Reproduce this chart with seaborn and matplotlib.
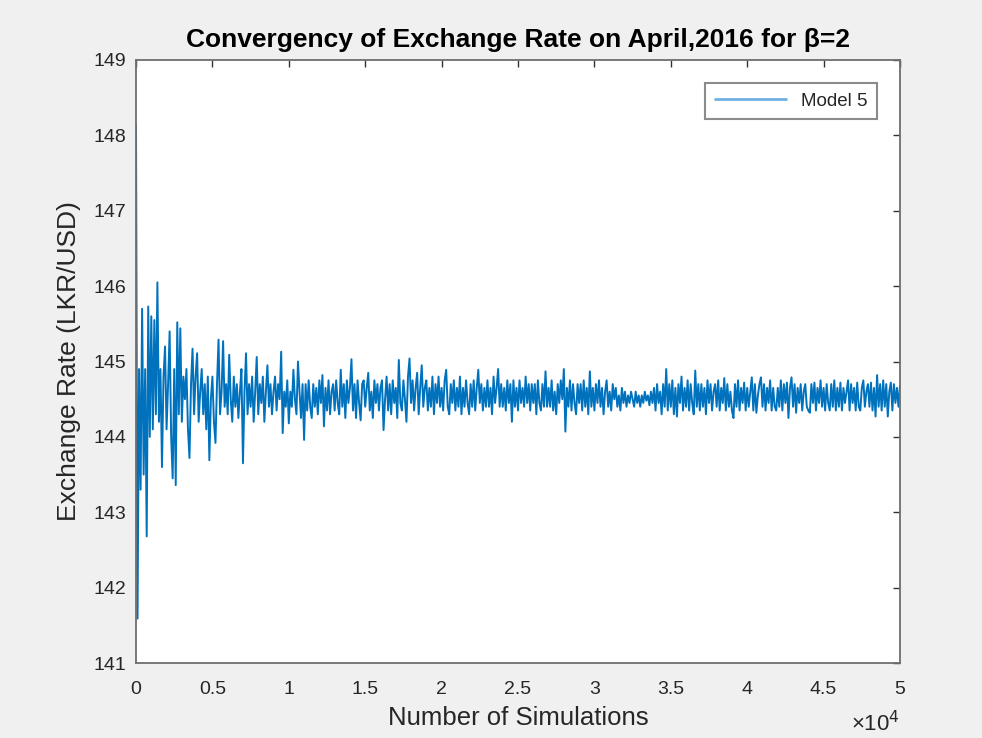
import matplotlib
matplotlib.use("Agg")
import matplotlib.pyplot as plt
import seaborn as sns
import pandas as pd

# number of simulations (every 100 runs) and the running estimate of the rate
sims = list(range(0, 50001, 100))
rate = [
    148.13, 141.59, 144.9, 143.3, 145.7, 143.5, 144.9, 142.68, 145.73, 144.0,
    145.6, 144.1, 145.55, 144.3, 146.05, 144.2, 144.9, 143.6, 144.8, 145.2,
    144.1, 144.7, 145.4, 144.0, 143.45, 144.9, 143.36, 145.52, 144.3, 145.44,
    144.2, 144.8, 144.5, 144.9, 144.1, 143.72, 144.7, 145.17, 144.3, 144.8,
    145.11, 144.2, 144.6, 144.9, 144.3, 144.7, 144.1, 144.8, 143.69, 144.5,
    144.8, 144.2, 143.92, 144.7, 145.29, 144.3, 144.6, 145.27, 144.4, 144.7,
    144.3, 145.09, 144.5, 144.2, 144.8, 144.4, 144.7, 144.25, 144.6, 144.9,
    143.65, 144.6, 145.11, 144.3, 144.7, 144.4, 144.8, 144.2, 144.6, 145.06,
    144.3, 144.7, 144.45, 144.8, 144.2, 144.6, 144.95, 144.4, 144.7, 144.3,
    144.6, 144.8, 144.35, 144.7, 144.5, 145.13, 144.05, 144.6, 144.4, 144.75,
    144.18, 144.6, 144.4, 144.89, 144.5, 144.3, 145.0, 144.6, 144.25, 144.7,
    143.96, 144.7, 144.35, 144.75, 144.4, 144.25, 144.7, 144.4, 144.65, 144.3,
    144.75, 144.45, 144.82, 144.14, 144.65, 144.35, 144.75, 144.3, 144.6, 144.7,
    144.35, 144.75, 144.45, 144.3, 144.89, 144.4, 144.7, 144.25, 144.75, 144.45,
    144.65, 145.03, 144.35, 144.7, 144.25, 144.75, 144.45, 144.22, 144.7, 144.75,
    144.4, 144.65, 144.85, 144.35, 144.6, 144.25, 144.75, 144.45, 144.7, 144.35,
    144.65, 144.75, 144.09, 144.5, 144.8, 144.35, 144.7, 144.3, 144.75, 144.45,
    144.65, 144.25, 145.02, 144.45, 144.35, 144.75, 144.5, 144.2, 144.8, 145.04,
    144.45, 144.75, 144.35, 144.65, 144.85, 144.3, 144.65, 144.95, 144.4, 144.65,
    144.75, 144.35, 144.65, 144.4, 144.8, 144.3, 144.7, 144.45, 144.8, 144.4,
    144.65, 144.35, 144.75, 144.89, 144.4, 144.3, 144.7, 144.45, 144.75, 144.35,
    144.65, 144.4, 144.8, 144.3, 144.65, 144.4, 144.75, 144.45, 144.3, 144.7,
    144.4, 144.75, 144.35, 144.65, 144.89, 144.45, 144.7, 144.35, 144.65, 144.4,
    144.75, 144.4, 144.65, 144.3, 144.8, 144.45, 144.65, 144.9, 144.4, 144.7,
    144.4, 144.65, 144.35, 144.75, 144.45, 144.7, 144.2, 144.75, 144.4, 144.65,
    144.35, 144.75, 144.45, 144.65, 144.4, 144.8, 144.45, 144.7, 144.35, 144.7,
    144.45, 144.7, 144.3, 144.75, 144.45, 144.35, 144.7, 144.4, 144.87, 144.4,
    144.65, 144.4, 144.75, 144.35, 144.6, 144.3, 144.7, 144.45, 144.75, 144.5,
    144.9, 144.07, 144.65, 144.4, 144.75, 144.35, 144.7, 144.45, 144.3, 144.7,
    144.45, 144.7, 144.35, 144.75, 144.4, 144.65, 144.3, 144.87, 144.4, 144.65,
    144.35, 144.7, 144.45, 144.75, 144.4, 144.65, 144.3, 144.6, 144.75, 144.4,
    144.6, 144.35, 144.7, 144.5, 144.65, 144.4, 144.55, 144.35, 144.65, 144.45,
    144.6, 144.4, 144.55, 144.45, 144.6, 144.5, 144.4, 144.6, 144.45, 144.55,
    144.4, 144.55, 144.45, 144.6, 144.48, 144.55, 144.42, 144.6, 144.45, 144.65,
    144.35, 144.7, 144.45, 144.6, 144.3, 144.7, 144.4, 144.9, 144.35, 144.7,
    144.4, 144.75, 144.3, 144.65, 144.27, 144.7, 144.45, 144.8, 144.35, 144.65,
    144.4, 144.75, 144.35, 144.7, 144.45, 144.3, 144.88, 144.4, 144.7, 144.35,
    144.7, 144.4, 144.65, 144.3, 144.75, 144.45, 144.7, 144.35, 144.6, 144.7,
    144.4, 144.75, 144.35, 144.65, 144.45, 144.78, 144.35, 144.7, 144.4, 144.6,
    144.35, 144.25, 144.7, 144.4, 144.75, 144.35, 144.65, 144.45, 144.72, 144.35,
    144.65, 144.4, 144.6, 144.79, 144.35, 144.7, 144.32, 144.55, 144.7, 144.79,
    144.4, 144.7, 144.35, 144.65, 144.45, 144.75, 144.35, 144.65, 144.4, 144.35,
    144.65, 144.4, 144.75, 144.35, 144.7, 144.45, 144.72, 144.25, 144.65, 144.79,
    144.4, 144.7, 144.32, 144.65, 144.45, 144.7, 144.35, 144.6, 144.7, 144.4,
    144.35, 144.32, 144.7, 144.45, 144.72, 144.35, 144.65, 144.45, 144.75, 144.4,
    144.65, 144.35, 144.7, 144.45, 144.35, 144.7, 144.4, 144.75, 144.35, 144.65,
    144.4, 144.72, 144.35, 144.65, 144.45, 144.6, 144.75, 144.35, 144.7, 144.45,
    144.65, 144.35, 144.72, 144.4, 144.35, 144.65, 144.75, 144.4, 144.6, 144.7,
    144.4, 144.72, 144.35, 144.65, 144.27, 144.82, 144.4, 144.7, 144.35, 144.75,
    144.4, 144.7, 144.27, 144.6, 144.72, 144.35, 144.7, 144.45, 144.65, 144.4,
    144.68,
]
x_ticks = [0, 5000, 10000, 15000, 20000, 25000, 30000, 35000, 40000, 45000, 50000]
x_tick_labels = ["0", "0.5", "1", "1.5", "2", "2.5", "3", "3.5", "4", "4.5", "5"]
y_ticks = [141, 142, 143, 144, 145, 146, 147, 148, 149]

df = pd.DataFrame({"sims": sims, "rate": rate})

sns.set_style("white")
plt.rcParams["font.family"] = ["Liberation Sans", "DejaVu Sans"]

fig = plt.figure(figsize=(9.82, 7.38), dpi=100, facecolor="#f0f0f0")
ax = fig.add_axes([0.1385, 0.1016, 0.778, 0.8171])
ax.set_facecolor("white")

sns.lineplot(data=df, x="sims", y="rate", ax=ax, color="#0072BD",
             linewidth=1.4, estimator=None, sort=False, label="Model 5")

ax.set_xlim(0, 50000)
ax.set_ylim(141, 149)
ax.set_xticks(x_ticks)
ax.set_xticklabels(x_tick_labels)
ax.set_yticks(y_ticks)

for s in ax.spines.values():
    s.set_visible(True)
    s.set_color("#6e6e6e")
    s.set_linewidth(1.3)
ax.tick_params(direction="in", top=True, right=True, length=5, width=1.0,
               color="#333333", labelsize=14, labelcolor="#262626")
ax.tick_params(axis="x", pad=13)
ax.tick_params(axis="y", pad=7)

ax.set_title("Convergency of Exchange Rate on April,2016 for β=2",
             fontsize=19, fontweight="bold", color="black", pad=9)
ax.set_xlabel("Number of Simulations", fontsize=18.5, color="#262626", labelpad=6)
ax.set_ylabel("Exchange Rate (LKR/USD)", fontsize=19, color="#262626", labelpad=9)
ax.text(1.0, -0.08, "×10$^{4}$", transform=ax.transAxes, ha="right", va="top",
        fontsize=16, color="#262626")

leg = ax.legend(loc="upper right", bbox_to_anchor=(0.982, 0.977), fontsize=13.5,
                fancybox=False, frameon=True, handlelength=3.8, borderpad=0.5)
leg.get_frame().set_edgecolor("#6e6e6e")
leg.get_frame().set_linewidth(1.5)
for h in leg.get_lines():
    h.set_color("#6fb0e0")
    h.set_linewidth(2.0)

plt.savefig("out.png", dpi=100, facecolor=fig.get_facecolor())
plt.close()
